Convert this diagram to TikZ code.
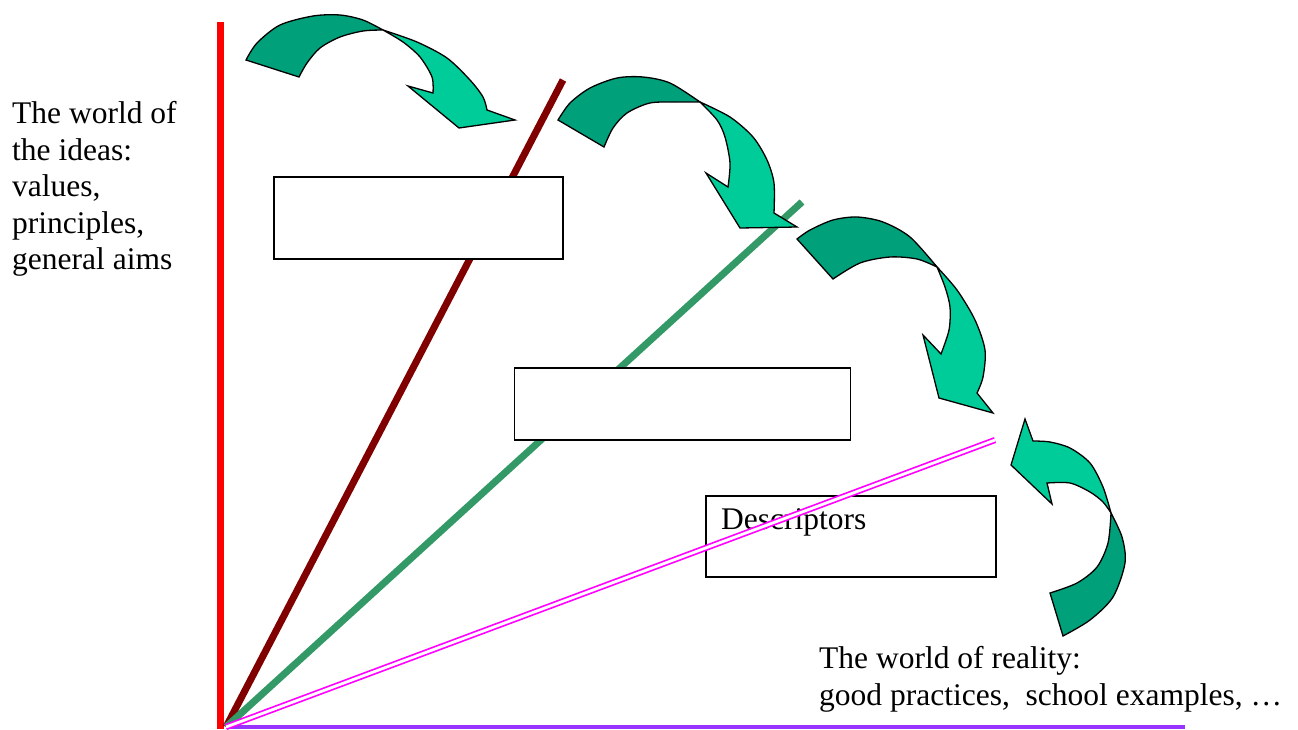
\documentclass[tikz,border=0pt]{standalone}
\usepackage{fontspec}
\setmainfont{Liberation Serif}
\definecolor{axred}{RGB}{255,0,0}
\definecolor{axbrown}{RGB}{128,0,0}
\definecolor{axgreen}{RGB}{51,153,102}
\definecolor{axmag}{RGB}{255,0,255}
\definecolor{axpurple}{RGB}{153,51,255}
\definecolor{arrdark}{RGB}{0,160,122}
\definecolor{arrlight}{RGB}{0,204,153}
\begin{document}
\begin{tikzpicture}[x=1pt,y=-1pt,
  txt/.style={font=\fontsize{31.5}{36.5}\selectfont, inner sep=0pt, align=left},
  emptybox/.style={draw=black, line width=1.6pt, fill=white, inner sep=0pt},
  openbox/.style={draw=black, line width=1.6pt, inner sep=0pt},
  darkpart/.style={fill=arrdark, draw=black, line width=1.3pt, line join=miter},
  lightpart/.style={fill=arrlight, draw=black, line width=1.3pt, line join=miter}]
\useasboundingbox (0,0) rectangle (1298,729);
% coordinates of the lines
\coordinate (redtop) at (220,22);
\coordinate (redbot) at (220,729);
\coordinate (O) at (226,727);
\coordinate (purpleend) at (1185,727);
\coordinate (browntop) at (563,80);
\coordinate (greentop) at (802,202);
\coordinate (magend) at (995,440);
% axes and rays
\draw[axred, line width=7pt] (redtop) -- (redbot);
\draw[axpurple, line width=4.5pt] (O) -- (purpleend);
\draw[axbrown, line width=7pt] (O) -- (browntop);
\draw[axgreen, line width=7pt] (O) -- (greentop);
% boxes
\node[emptybox, minimum width=289pt, minimum height=82pt] (box1) at (418.5,217.8) {};
\node[emptybox, minimum width=336pt, minimum height=72pt] (box2) at (682.5,404.2) {};
\node[openbox, minimum width=290pt, minimum height=81pt] (box3) at (851,536.4) {};
\node[txt, anchor=base west] (desc) at (721,529) {Descriptors};
% magenta double ray
\draw[axmag, line width=1.7pt, double=white, double distance=2.8pt] (O) -- (magend);
% texts
\node[txt, anchor=north west] (ideas) at (12,101.4)
  {The world of\\the ideas:\\values,\\principles,\\general aims};
\node[txt, anchor=north west] (reality) at (819,646.5)
  {The world of reality:\\good practices,\ \ school examples, \dots};
% arrow 1
\draw[darkpart] plot[smooth] coordinates {(246,60) (257,43) (280,25) (313,16) (340,15) (363,20) (383,30)}
  -- plot[smooth] coordinates {(383,30) (363,31) (340,37) (320,48) (307,63) (299,77)} -- cycle;
\draw[lightpart] plot[smooth] coordinates {(383,30) (417,42) (447,58) (470,80) (483,97) (487,110)}
  -- (515,120) -- (459,128) -- (408,86) -- (433,93)
  -- plot[smooth] coordinates {(433,93) (432,77) (420,57) (403,42) (383,30)} -- cycle;
% arrow 2
\draw[darkpart] plot[smooth] coordinates {(558,120) (570,103) (590,88) (617,78) (643,77) (670,83) (700,102)}
  -- plot[smooth] coordinates {(700,102) (677,102) (650,103) (627,113) (613,128) (604,147)} -- cycle;
\draw[lightpart] plot[smooth] coordinates {(700,102) (730,117) (753,137) (767,160) (774,183) (774,213)}
  -- (797,227) -- (740,228) -- (706,173) -- (728,187)
  -- plot[smooth] coordinates {(728,187) (730,163) (725,137) (717,120) (700,102)} -- cycle;
% arrow 3
\draw[darkpart] plot[smooth] coordinates {(797,239) (810,230) (833,220) (857,217) (883,222) (910,237) (937,267)}
  -- plot[smooth] coordinates {(937,267) (917,259) (890,257) (860,263) (833,279)} -- cycle;
\draw[lightpart] plot[smooth] coordinates {(937,267) (957,290) (975,320) (985,350) (983,377) (977,393)}
  -- (993,413) -- (939,398) -- (923,335) -- (941,354)
  -- plot[smooth] coordinates {(941,354) (949,330) (950,307) (945,287) (937,267)} -- cycle;
% arrow 4
\draw[darkpart] plot[smooth] coordinates {(1063,636) (1090,620) (1113,597) (1125,563) (1122,537) (1111,513)}
  -- plot[smooth] coordinates {(1111,513) (1108,543) (1097,567) (1077,583) (1050,593)} -- cycle;
\draw[lightpart] plot[smooth] coordinates {(1111,513) (1103,487) (1090,463) (1070,448) (1050,442) (1033,441)}
  -- (1025,419) -- (1011,465) -- (1052,504) -- (1047,483)
  -- plot[smooth] coordinates {(1047,483) (1070,483) (1090,492) (1103,502) (1111,513)} -- cycle;
\end{tikzpicture}
\end{document}
